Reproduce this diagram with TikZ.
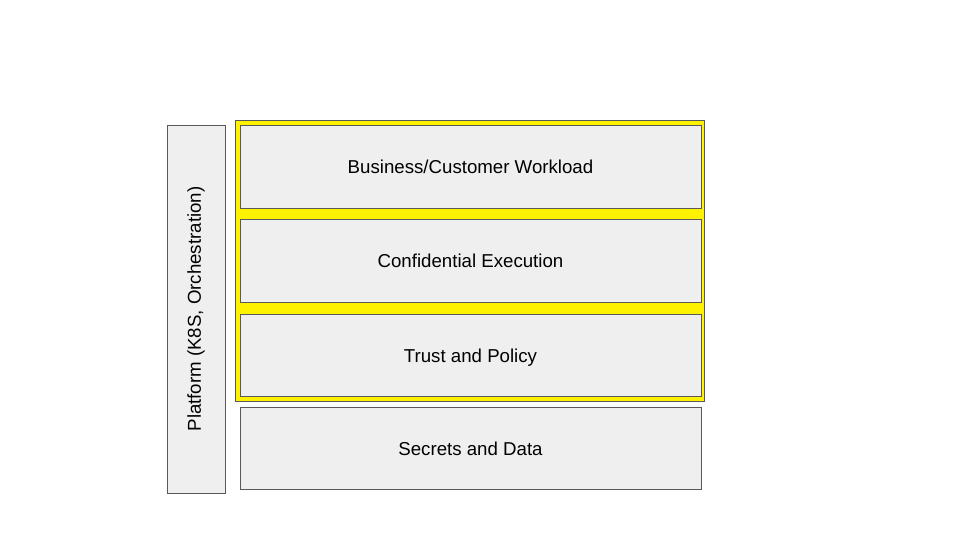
\documentclass[tikz,border=0pt]{standalone}
\usepackage{fontspec}
\setmainfont{Liberation Sans}
\definecolor{boxgray}{HTML}{EFEFEF}
\definecolor{linegray}{HTML}{595959}
\tikzset{
	layer/.style={rectangle, draw=linegray, fill=boxgray, line width=0.75pt, minimum width=345.75pt, minimum height=62.25pt, inner sep=0pt, text height=11.5pt, text depth=1.5pt, font=\fontsize{14}{16}\selectfont},
}
\begin{document}
\begin{tikzpicture}[x=0.75pt, y=-0.75pt]
			\useasboundingbox (0,0) rectangle (960,540);
			\pgfmathsetmacro{\dy}{94}
			\node[rectangle, draw=linegray, fill=yellow, line width=0.75pt, minimum width=351.75pt, minimum height=210.4pt] (trusted) at (470,260.75) {};
			\node[layer] (workload) at (470.5,166.5) {Business/Customer Workload};
			\node[layer] (exec) at (470.5,166.5+1*\dy) {Confidential Execution};
			\node[layer, minimum height=61.5pt] (policy) at (470.5,355.5) {Trust and Policy};
			\node[layer, minimum height=61.5pt] (secrets) at (470.5,448.5) {Secrets and Data};
			\node[layer, minimum width=43.5pt, minimum height=276pt, text height=, text depth=] (platform) at (196,309) {\rotatebox{90}{Platform (K8S, Orchestration)}};
			\end{tikzpicture}
\end{document}
